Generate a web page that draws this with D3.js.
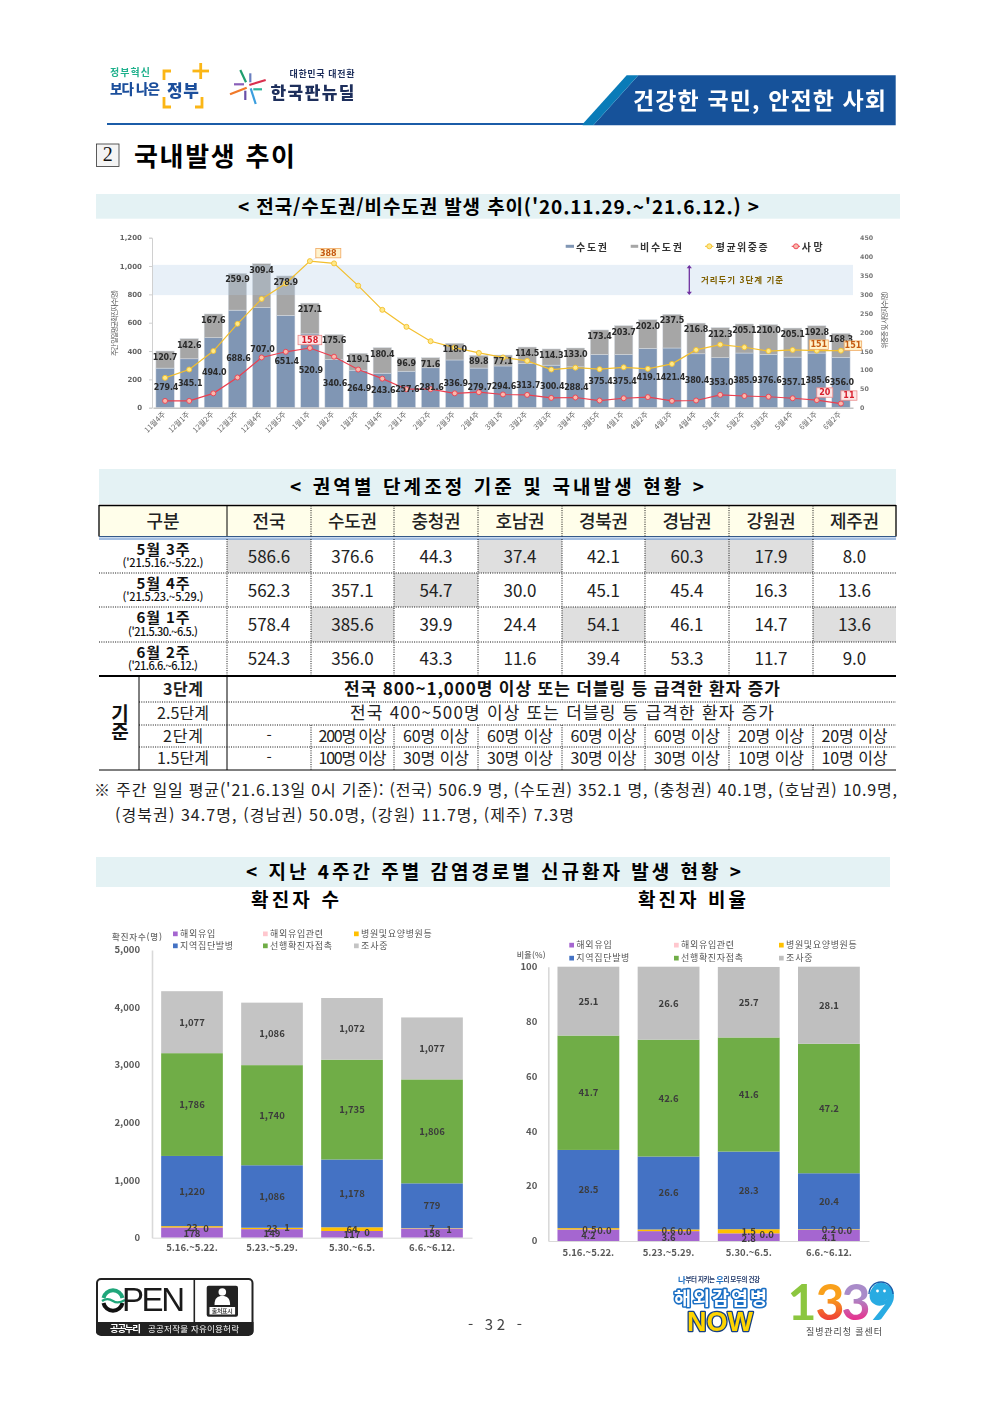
<!DOCTYPE html>
<html lang="ko"><head><meta charset="utf-8">
<script src="https://cdn.jsdelivr.net/npm/d3@7"></script>
<style>
html,body{margin:0;padding:0;background:#fff}
svg{display:block}
text{font-family:"Noto Sans CJK KR","Noto Sans",sans-serif}
.soft{filter:blur(.35px)}
</style></head><body>
<svg id="page" width="992" height="1403" viewBox="0 0 992 1403">
<defs>
<linearGradient id="g3a" x1="0" y1="0" x2="0" y2="1"><stop offset=".45" stop-color="#f9a01b"/><stop offset=".8" stop-color="#ef4136"/></linearGradient>
<linearGradient id="g3b" x1="0" y1="0" x2="0" y2="1"><stop offset=".45" stop-color="#a98bc9"/><stop offset=".8" stop-color="#e6338f"/></linearGradient>
</defs>
</svg>
<script>
// ---------- chart 1 data ----------
const weeks = ["11월4주","12월1주","12월2주","12월3주","12월4주","12월5주","1월1주","1월2주","1월3주","1월4주","2월1주","2월2주","2월3주","2월4주","3월1주","3월2주","3월3주","3월4주","3월5주","4월1주","4월2주","4월3주","4월4주","5월1주","5월2주","5월3주","5월4주","6월1주","6월2주"];
const capitalArea = [279.4,345.1,494.0,688.6,707.0,651.4,520.9,340.6,264.9,243.6,257.6,281.6,336.9,279.7,294.6,313.7,300.4,288.4,375.4,375.4,419.1,421.4,380.4,353.0,385.9,376.6,357.1,385.6,356.0];
const nonCapitalArea = [120.7,142.6,167.6,259.9,309.4,278.9,217.1,175.6,119.1,180.4,96.9,71.6,118.0,89.8,77.1,114.5,114.3,133.0,173.4,203.7,202.0,237.5,216.8,212.3,205.1,210.0,205.1,192.8,168.3];
const severeAvg = [79,101,150,222,288,329,388,382,323,259,214,176,159,145,133,124,101,106,102,107,103,116,153,167,160,150,153,151,151];
const deaths = [18,18,38,80,133,148,158,135,101,77,49,49,38,41,35,34,26,27,19,25,28,18,19,34,31,29,25,20,11];
const leftTicks = [0,200,400,600,800,1000,1200];
const rightTicks = [0,50,100,150,200,250,300,350,400,450];
const thresholdBand = [800,1000];
// ---------- table data ----------
const regions = ["전국","수도권","충청권","호남권","경북권","경남권","강원권","제주권"];
const rowLabels = ["5월 3주","5월 4주","6월 1주","6월 2주"];
const rowDates = ["('21.5.16.~5.22.)","('21.5.23.~5.29.)","('21.5.30.~6.5.)","('21.6.6.~6.12.)"];
const rowMay3 = ["586.6","376.6","44.3","37.4","42.1","60.3","17.9","8.0"];
const rowMay4 = ["562.3","357.1","54.7","30.0","45.1","45.4","16.3","13.6"];
const rowJun1 = ["578.4","385.6","39.9","24.4","54.1","46.1","14.7","13.6"];
const rowJun2 = ["524.3","356.0","43.3","11.6","39.4","53.3","11.7","9.0"];
const shadedMay3 = [0,3,5,6], shadedMay4 = [2], shadedJun1 = [1,4,7], shadedJun2 = [];
const level2 = ["-","200명 이상","60명 이상","60명 이상","60명 이상","60명 이상","20명 이상","20명 이상"];
const level15 = ["-","100명 이상","30명 이상","30명 이상","30명 이상","30명 이상","10명 이상","10명 이상"];
// ---------- chart 2 / 3 data ----------
const periods = ["5.16.~5.22.","5.23.~5.29.","5.30.~6.5.","6.6.~6.12."];
const routes = ["해외유입","병원및요양병원등","해외유입관련","지역집단발병","선행확진자접촉","조사중"];
const countImported = [178,149,117,158];
const countHospital = [23,23,64,7];
const countImportLinked = [0,1,0,1];
const countCluster = [1220,1086,1178,779];
const countContact = [1786,1740,1735,1806];
const countUnknown = [1077,1086,1072,1077];
const shareImported = [4.2,3.6,2.8,4.1];
const shareHospital = [0.5,0.6,1.5,0.2];
const shareImportLinked = [0.0,0.0,0.0,0.0];
const shareCluster = [28.5,26.6,28.3,20.4];
const shareContact = [41.7,42.6,41.6,47.2];
const shareUnknown = [25.1,26.6,25.7,28.1];
const countTicks = [0,1000,2000,3000,4000,5000];
const shareTicks = [0,20,40,60,80,100];

const svg = d3.select("#page");
function T(g,x,y,s,o={}){
  const t=g.append("text").attr("x",x).attr("y",y-1.1).text(s)
    .attr("text-anchor",o.a||"middle").attr("dominant-baseline","central")
    .attr("font-size",o.s||12).attr("font-weight",o.w||400).attr("fill",o.f||"#111");
  if(o.fam) t.style("font-family",o.fam);
  if(o.fit) t.attr("textLength",o.fit).attr("lengthAdjust",o.adj||"spacing");
  if(o.stroke) t.attr("stroke",o.stroke).attr("stroke-width",o.sw||1).attr("paint-order","stroke").attr("stroke-linejoin","round");
  if(o.rot!=null) t.attr("transform",`rotate(${o.rot} ${x} ${y})`);
  return t;
}
function R(g,x,y,w,h,f,o={}){
  return g.append("rect").attr("x",x).attr("y",y).attr("width",w).attr("height",h).attr("fill",f)
    .attr("stroke",o.st||"none").attr("stroke-width",o.sw||1).attr("rx",o.rx||0);
}
function L(g,x1,y1,x2,y2,c,w,d){
  const l=g.append("line").attr("x1",x1).attr("y1",y1).attr("x2",x2).attr("y2",y2).attr("stroke",c).attr("stroke-width",w||1);
  if(d) l.attr("stroke-dasharray",d);
  return l;
}

// ---------- header ----------
(function(){
  const g=svg.append("g").attr("class","soft");
  T(g,110,73,"정부혁신",{a:"start",s:10,w:700,f:"#1fb08c",fit:40});
  T(g,110,89,"보다 나은",{a:"start",s:13.5,w:900,f:"#1c4f9c",fit:50});
  T(g,183,91,"정부",{s:17,w:900,f:"#1c4f9c",fit:32});
  const br=g.append("g").attr("fill","none").attr("stroke","#fbb616").attr("stroke-width",2.8);
  br.append("path").attr("d","M171 71H164V80M164 97V107H171");
  br.append("path").attr("d","M202 97V107H195");
  L(g,200.7,63,200.7,79,"#fbb616",2.8); L(g,192.5,71,209,71,"#fbb616",2.8);
  const rays=[["#1f9d6e",240.3,70,246,82.3],["#6a7fc0",250.3,73.3,250.3,82.3],["#d9304e",249.3,85,265.7,80],["#2bb39a",253.3,89.3,262,89.3],["#3b9ede",250.7,88.3,255.7,104],["#6a4fa8",245.3,90.7,245.3,100],["#f0792a",230,94.3,246.7,87.7],["#8a5fb8",234,84.3,244,84.3]];
  rays.forEach(r=>L(g,r[1],r[2],r[3],r[4],r[0],2.2));
  T(g,322,75,"대한민국 대전환",{s:9,w:700,f:"#1e2f5c",fit:65});
  T(g,312.5,92.5,"한국판뉴딜",{s:17,w:900,f:"#1e2f5c",fit:84});
  L(g,107,124,584,124,"#1b5ca8",1.8);
  g.append("path").attr("d","M593.3 125.3L638.3 75.3H895.7V125.3Z").attr("fill","#16529a");
  g.append("path").attr("d","M582.7 124L626.7 75.3H638.3L593.3 125.3H582.7Z").attr("fill","#0a7bb8");
  T(g,759.5,100,"건강한 국민, 안전한 사회",{s:23,w:700,f:"#fff",fit:253});
  // section heading
  R(svg,96.5,144,22.5,22.5,"#f4f4f4",{st:"#333",sw:.8});
  T(svg,107.8,155.5,"2",{s:20,w:300,f:"#111",fam:'"Liberation Serif",serif'});
  T(svg,214.5,155.5,"국내발생 추이",{s:26,w:700,f:"#000",fit:161});
  // section bands
  R(svg,96,194,804,24.7,"#e4f2f4");
  T(svg,498.5,206.5,"< 전국/수도권/비수도권 발생 추이('20.11.29.~'21.6.12.) >",{s:19,w:700,f:"#000",fit:521});
  R(svg,99,469,797,35,"#e4f2f4");
  T(svg,497,486.5,"< 권역별 단계조정 기준 및 국내발생 현황 >",{s:19,w:700,f:"#000",fit:414});
  R(svg,96,857,794,30,"#e4f2f4");
  T(svg,493.5,871.5,"< 지난 4주간 주별 감염경로별 신규환자 발생 현황 >",{s:19,w:700,f:"#000",fit:495});
  T(svg,295,900,"확진자 수",{s:19,w:700,f:"#000",fit:88});
  T(svg,692,900,"확진자 비율",{s:19,w:700,f:"#000",fit:108});
})();

// ---------- chart 1 ----------
(function(){
  const g=svg.append("g").attr("class","soft");
  const DV='"DejaVu Sans",sans-serif', yBase=407.7, yTop=237.7, xL=153, xR=853;
  const x=d3.scaleBand().domain(weeks).range([xL,xR]).paddingInner(.24).paddingOuter(.12);
  const y=d3.scaleLinear().domain([0,1200]).range([yBase,yTop]);
  const y2=d3.scaleLinear().domain([0,450]).range([yBase,yTop]);
  const cx=w=>x(w)+x.bandwidth()/2;
  const rows=weeks.map((w,i)=>({w,cap:capitalArea[i],non:nonCapitalArea[i]}));
  const stack=d3.stack().keys(["cap","non"])(rows);
  const col={cap:"#8096b4",non:"#a6a6a6"};
  stack.forEach(s=>{
    g.append("g").selectAll("rect").data(s).join("rect")
      .attr("x",d=>x(d.data.w)).attr("width",x.bandwidth())
      .attr("y",d=>y(d[1])).attr("height",d=>y(d[0])-y(d[1]))
      .attr("fill",col[s.key]).attr("stroke","#d8dde4").attr("stroke-width",.5);
  });
  // distancing-level band, over the bars
  g.append("rect").attr("x",xL).attr("width",xR-xL)
    .attr("y",y(1008)).attr("height",y(795)-y(1008))
    .attr("fill","rgb(179,205,231)").attr("fill-opacity",.3);
  // axes
  const ax=g.append("g").attr("transform",`translate(${xL-1},0)`)
    .call(d3.axisLeft(y).tickValues(leftTicks).tickFormat(d3.format(",")).tickSize(3).tickPadding(7));
  ax.selectAll("path,line").attr("stroke","#d0d0d0");
  ax.selectAll("text").style("font-family",DV).attr("font-size",7).attr("font-weight",700).attr("fill","#666");
  const ar=g.append("g").attr("transform",`translate(${xR},0)`)
    .call(d3.axisRight(y2).tickValues(rightTicks).tickSize(0).tickPadding(7));
  ar.select("path").remove();
  ar.selectAll("text").style("font-family",DV).attr("font-size",6.3).attr("font-weight",700).attr("fill","#777");
  const ab=g.append("g").attr("transform",`translate(0,${yBase})`)
    .call(d3.axisBottom(x).tickSize(0).tickPadding(0));
  ab.select("path").attr("stroke","#c4c4c4").attr("stroke-width",1.4);
  ab.selectAll("text").attr("font-size",7.5).attr("fill","#666")
    .attr("text-anchor","end").attr("dy",0).attr("y",0)
    .attr("transform","translate(1,7) rotate(-45)");
  T(g,115,323,"주간 일일평균확진자수(명)",{s:7,f:"#555",rot:-90,fit:66});
  T(g,885,320,"위중증 및 사망자수(명)",{s:7,f:"#555",rot:-90,fit:57});
  // lines
  const lineY=(vals,c,m)=>{
    const ln=d3.line().x((d,i)=>cx(weeks[i])).y(d=>y2(d));
    g.append("path").attr("d",ln(vals)).attr("fill","none").attr("stroke",c).attr("stroke-width",1.2);
    g.append("g").selectAll("circle").data(vals).join("circle")
      .attr("cx",(d,i)=>cx(weeks[i])).attr("cy",d=>y2(d)).attr("r",2.5)
      .attr("fill",m).attr("stroke",c).attr("stroke-width",.9);
  };
  lineY(severeAvg,"#f3bf2e","#ffe98a");
  lineY(deaths,"#ec3f4f","#f9b9ad");
  // data labels
  const lab=(d,xx,yy)=>{
    const s=d3.format(".1f")(d);
    T(g,xx,yy+1,s,{s:8,w:700,f:"#2a2a2a",fam:DV,fit:s.length>4?24.5:19.5});
  };
  rows.forEach(r=>{
    const raise = r.w==="12월4주" ? 8 : 0;
    lab(r.cap,cx(r.w)+1,y(r.cap/2)-raise);
    lab(r.non,cx(r.w),y(r.cap+r.non)+6.5);
  });
  // callouts
  const box=(wk,val,scale,dx,dy,w,fill,st,tc,s)=>{
    const px=cx(wk)+dx, py=scale(val)+dy;
    R(g,px-w/2,py-4.7,w,9.4,fill,{st,sw:.8});
    T(g,px,py+1.1,s,{s:8,w:700,f:tc,fam:DV});
  };
  L(g,cx("1월1주"),y2(388),cx("1월1주")+8,y2(388)-4,"#ddd",.6);
  box("1월1주",388,y2,18.4,-8,25,"#fff2cc","#f0a860","#c55a11","388");
  box("1월1주",158,y2,0,-8,23.7,"#fde6e6","#ea8a8a","#d81e2c","158");
  box("6월1주",151,y2,2,-6,19,"#fff2cc","#f0a860","#c55a11","151");
  box("6월2주",151,y2,12,-5,17.5,"#fff2cc","#f0a860","#c55a11","151");
  box("6월1주",20,y2,8,-7.6,16,"#fde6e6","#ea8a8a","#d81e2c","20");
  box("6월2주",11,y2,8,-8,16,"#fde6e6","#ea8a8a","#d81e2c","11");
  // legend
  const ly=246.3;
  R(g,565.7,ly-1.5,8.3,3,col.cap); T(g,576,ly+1,"수도권",{a:"start",s:10,w:700,f:"#333",fit:31});
  R(g,630.7,ly-1.5,7.5,3,col.non); T(g,640,ly+1,"비수도권",{a:"start",s:10,w:700,f:"#333",fit:42});
  L(g,705,ly,713.5,ly,"#f3bf2e",1); g.append("circle").attr("cx",709.3).attr("cy",ly).attr("r",2.5).attr("fill","#ffe98a").attr("stroke","#f3bf2e").attr("stroke-width",.9);
  T(g,715.7,ly+1,"평균위중증",{a:"start",s:10,w:700,f:"#333",fit:52});
  L(g,791.7,ly,800,ly,"#ec3f4f",1); g.append("circle").attr("cx",796).attr("cy",ly).attr("r",2.5).attr("fill","#f9b9ad").attr("stroke","#ec3f4f").attr("stroke-width",.9);
  T(g,801.7,ly+1,"사망",{a:"start",s:10,w:700,f:"#333",fit:21});
  // level arrow
  const ax2=689.3, c="#7030a0";
  L(g,ax2,y(1000),ax2,y(803),c,1.3);
  g.append("path").attr("d",`M${ax2-2.6} ${y(984)}L${ax2} ${y(1008)}L${ax2+2.6} ${y(984)}Z`).attr("fill",c);
  g.append("path").attr("d",`M${ax2-2.6} ${y(819)}L${ax2} ${y(795)}L${ax2+2.6} ${y(819)}Z`).attr("fill",c);
  T(g,701,280,"거리두기 3단계 기준",{a:"start",s:8.5,w:700,f:"#7f6000",fit:82});
})();

// ---------- table ----------
(function(){
  const g=svg.append("g");
  const cols=[227,311,394,478,562,645,729,813,896];
  const cc=i=>(cols[i]+cols[i+1])/2;
  const rowY=[539,573,607,642,675.5];
  const dots="1 1.3";
  const bodyRows=[rowMay3,rowMay4,rowJun1,rowJun2];
  const shaded=[shadedMay3,shadedMay4,shadedJun1,shadedJun2];
  // header
  R(g,99,505.5,797,31,"#fffeea");
  shaded.forEach((list,r)=>list.forEach(c=>R(g,cols[c],rowY[r],cols[c+1]-cols[c],rowY[r+1]-rowY[r],"#dfdfdf")));
  L(g,99,505.5,896,505.5,"#000",1.3);
  L(g,99,505,99,536.5,"#000",1.3); L(g,896,505,896,536.5,"#000",1.3); L(g,227,505,227,536.5,"#000",1);
  L(g,99,536.5,896,536.5,"#000",1);
  L(g,99,536.8,896,536.8,"#4a7fc4",1); L(g,99,539,896,539,"#4a7fc4",1);
  T(g,163,521.5,"구분",{s:18,w:500,f:"#222",fit:33});
  regions.forEach((r,i)=>T(g,cc(i),521.5,r,{s:18,w:500,f:"#222",fit:r.length>2?49:33}));
  // body
  bodyRows.forEach((vals,r)=>{
    const mid=(rowY[r]+rowY[r+1])/2;
    T(g,163,mid-6.5,rowLabels[r],{s:15,w:700,f:"#111",fit:53});
    T(g,163,mid+7.5,rowDates[r],{s:11,w:500,f:"#111",fit:r<2?81:70});
    vals.forEach((v,i)=>T(g,cc(i),mid+.2,v,{s:17,w:400,f:"#222"}));
    if(r<3) L(g,99,rowY[r+1],896,rowY[r+1],"#111",1,dots);
  });
  cols.slice(1,8).forEach(x=>L(g,x,505.5,x,536.5,"#111",1,dots));
  cols.slice(0,8).forEach(x=>L(g,x,539,x,675.5,"#111",1,dots));
  L(g,99,676,896,676,"#000",1.8);
  // criteria
  const crit=[["3단계",689,16,700],["2.5단계",713,16,400],["2단계",736,16,400],["1.5단계",758,16,400]];
  crit.forEach(c=>T(g,183,c[1],c[0],{s:c[2],w:c[3],f:"#222",fit:c[0].length>3?52:40}));
  T(g,562,689,"전국 800~1,000명 이상 또는 더블링 등 급격한 환자 증가",{s:17,w:700,f:"#111",fit:436});
  T(g,562,713,"전국 400~500명 이상 또는 더블링 등 급격한 환자 증가",{s:17,w:400,f:"#222",fit:424});
  [[level2,736],[level15,758]].forEach(([arr,yy])=>arr.forEach((v,i)=>T(g,cc(i),yy,v,v==="-"?{s:15,f:"#222"}:{s:16,f:"#222",fit:i===1?68:66})));
  T(g,120,714,"기",{s:19,w:700,f:"#111"}); T(g,120,732,"준",{s:19,w:700,f:"#111"});
  L(g,139,676,139,770,"#000",1);
  L(g,227,676,227,770,"#000",1);
  L(g,99,770,896,770,"#000",1);
  L(g,139,702,896,702,"#111",1,dots);
  L(g,139,725,896,725,"#111",1,dots);
  L(g,139,747,896,747,"#111",1,dots);
  cols.slice(1,8).forEach(x=>L(g,x,725,x,770,"#111",1,dots));
  T(g,94,790,"※ 주간 일일 평균('21.6.13일 0시 기준): (전국) 506.9 명, (수도권) 352.1 명, (충청권) 40.1명, (호남권) 10.9명,",{a:"start",s:16,f:"#222",fit:803});
  T(g,115,815,"(경북권) 34.7명, (경남권) 50.0명, (강원) 11.7명, (제주) 7.3명",{a:"start",s:16,f:"#222",fit:459});
})();

// ---------- stacked charts ----------
const routeColors=["#a566d0","#ffc000","#ffc7ce","#4472c4","#70ad47","#bfbfbf"];
function stacked(o){
  const g=svg.append("g").attr("class","soft");
  const x=d3.scaleBand().domain(periods).range(o.xr).paddingInner(.229).paddingOuter(.1145);
  const y=d3.scaleLinear().domain(o.dom).range(o.yr);
  const rows=periods.map((p,i)=>{const r={p};routes.forEach((k,j)=>r[k]=o.series[j][i]);return r;});
  const st=d3.stack().keys(routes)(rows);
  st.forEach((s,j)=>{
    g.append("g").selectAll("rect").data(s).join("rect")
      .attr("x",d=>x(d.data.p)).attr("width",x.bandwidth())
      .attr("y",d=>y(d[1])).attr("height",d=>Math.max(0,y(d[0])-y(d[1])))
      .attr("fill",j===5?o.gray:routeColors[j]);
  });
  const ax=g.append("g").attr("transform",`translate(${o.xr[0]},0)`)
    .call(d3.axisLeft(y).tickValues(o.ticks).tickFormat(o.fmt).tickSize(0).tickPadding(o.pad));
  ax.select("path").attr("stroke","#d9d9d9").attr("stroke-width",1.6);
  ax.selectAll("text").attr("font-size",9.5).attr("font-weight",700).attr("fill","#595959").attr("dy",".3em");
  const ab=g.append("g").attr("transform",`translate(0,${o.yr[0]})`)
    .call(d3.axisBottom(x).tickSize(0).tickPadding(o.xpad));
  ab.select("path").attr("stroke","#d9d9d9").attr("stroke-width",1);
  ab.selectAll("text").attr("font-size",9.5).attr("font-weight",700).attr("fill","#595959");
  st.forEach((s,j)=>s.forEach((d,i)=>{
    const n=j<3?o.nudge[i][j]:[0,0];
    T(g,x(d.data.p)+x.bandwidth()/2+n[0],y((d[0]+d[1])/2)+n[1]+.6,o.lab(d.data[routes[j]]),{s:9.5,w:700,f:"#3c3c3c"});
  }));
  routes.forEach((k,j)=>{
    const sl=o.legend[j];
    R(g,sl[0],sl[1]-2.5,4.7,4.7,j===5?o.gray:routeColors[j]);
    T(g,sl[0]+7,sl[1]+.6,k,{a:"start",s:9,f:"#555",fit:k.length*8.85});
  });
  T(g,o.title[0],o.title[1]+.6,o.title[2],{a:"start",s:o.title[3],w:500,f:"#666",fit:o.title[4]});
}
const comma=d3.format(",");
stacked({
  xr:[152,472],yr:[1237.7,950],dom:[0,5000],ticks:countTicks,fmt:comma,pad:12,xpad:7,gray:"#c4c4c4",
  series:[countImported,countHospital,countImportLinked,countCluster,countContact,countUnknown],
  lab:comma,
  nudge:[[[0,1],[0,1],[14,2]],[[0,0],[0,0],[15,0]],[[0,0],[0,0],[15,5]],[[0,0],[0,0],[17,1]]],
  legend:[[173,934],[354,934],[263,934],[173,946],[263,946],[354,946]],
  title:[112,936,"확진자수(명)",8.5,50]
});
stacked({
  xr:[548.3,869],yr:[1241,966.7],dom:[0,100],ticks:shareTicks,fmt:d=>d,pad:11,xpad:8,gray:"#bfbfbf",
  series:[shareImported,shareHospital,shareImportLinked,shareCluster,shareContact,shareUnknown],
  lab:d3.format(".1f"),
  nudge:[[[0,0],[1,1],[16,2]],[[0,1],[0,0],[16,2]],[[0,1],[0,0],[18,5]],[[0,2],[0,0],[16,1]]],
  legend:[[569.3,945.3],[779,945.3],[674,945.3],[569.3,958.3],[674,958.3],[779,958.3]],
  title:[516.7,955.3,"비율(%)",8,29]
});

// ---------- footer ----------
(function(){
  const g=svg.append("g").attr("class","soft");
  T(g,495,1325,"- 32 -",{s:15,f:"#444",fit:54});
  // open licence badge
  R(g,97,1279,155.5,56,"#fff",{st:"#222",sw:2,rx:4});
  g.append("path").attr("d","M96 1322H253.5V1331a4 4 0 0 1-4 4H100a4 4 0 0 1-4-4Z").attr("fill","#222");
  L(g,194.3,1279,194.3,1322,"#222",1.6);
  g.append("path").attr("d","M103.5 1298a9.7 9.7 0 0 1 19 0").attr("fill","none").attr("stroke","#1fa67a").attr("stroke-width",4);
  g.append("path").attr("d","M103.5 1303a9.7 9.7 0 0 0 19 0").attr("fill","none").attr("stroke","#111").attr("stroke-width",4);
  g.append("path").attr("d","M102 1301c4-3 8-2 11 0s7 2 12-1").attr("fill","none").attr("stroke","#1fa67a").attr("stroke-width",2.2);
  T(g,153.5,1301,"PEN",{s:33,w:400,f:"#1a1a1a",fam:'"Liberation Sans",sans-serif',fit:63});
  R(g,206.7,1285.7,31.3,31,"#222",{rx:2});
  g.append("circle").attr("cx",222.3).attr("cy",1292).attr("r",3.8).attr("fill","#fff");
  g.append("path").attr("d","M214.5 1305c0-7 3-9 7.8-9s7.8 2 7.8 9Z").attr("fill","#fff");
  R(g,209.5,1307,25.6,7.5,"#fff");
  T(g,222.3,1311.5,"출처표시",{s:6,w:500,f:"#222",fit:21});
  T(g,125.5,1329.5,"공공누리",{s:9.5,w:700,f:"#fff",fit:31});
  T(g,193.5,1329.5,"공공저작물 자유이용허락",{s:8.5,f:"#fff",fit:91});
  // overseas infection logo
  const tg=g.append("text").attr("x",719).attr("y",1279).attr("text-anchor","middle").attr("dominant-baseline","central")
    .attr("font-size",6.5).attr("font-weight",700).attr("fill","#223a6b").attr("textLength",82);
  tg.append("tspan").text("나").attr("fill","#1b6fc4").attr("font-size",8.5);
  tg.append("tspan").text("부터 지키는 ");
  tg.append("tspan").text("우").attr("fill","#1b6fc4").attr("font-size",8.5);
  tg.append("tspan").text("리 모두의 건강");
  T(g,720.5,1298,"해외감염병",{s:18.5,w:700,f:"#fff",stroke:"#1b6fc4",sw:3.2,fit:93});
  T(g,720,1323,"NOW",{s:27,w:900,f:"#ffd400",stroke:"#153f82",sw:2.6,fit:66,fam:'"Liberation Sans",sans-serif'});
  // 1339 logo
  const dg=[["1",802,"#8cc63f"],["3",830,"url(#g3a)"],["3",856,"url(#g3b)"],["9",882,"#29abe2"]];
  dg.forEach(d=>T(g,d[1],1302,d[0],{s:50,w:700,f:d[2],fam:'"Lato","Noto Sans",sans-serif'}));
  g.append("circle").attr("cx",881).attr("cy",1292).attr("r",9.5).attr("fill","#29abe2");
  g.append("circle").attr("cx",877.5).attr("cy",1291).attr("r",1.4).attr("fill","#fff");
  g.append("circle").attr("cx",884.5).attr("cy",1291).attr("r",1.4).attr("fill","#fff");
  g.append("path").attr("d","M869 1294a12 12 0 0 1 24 0").attr("fill","none").attr("stroke","#1b5ca8").attr("stroke-width",1.4);
  T(g,844,1332.5,"질병관리청 콜센터",{s:9,f:"#444",fit:76});
})();
</script></body></html>
